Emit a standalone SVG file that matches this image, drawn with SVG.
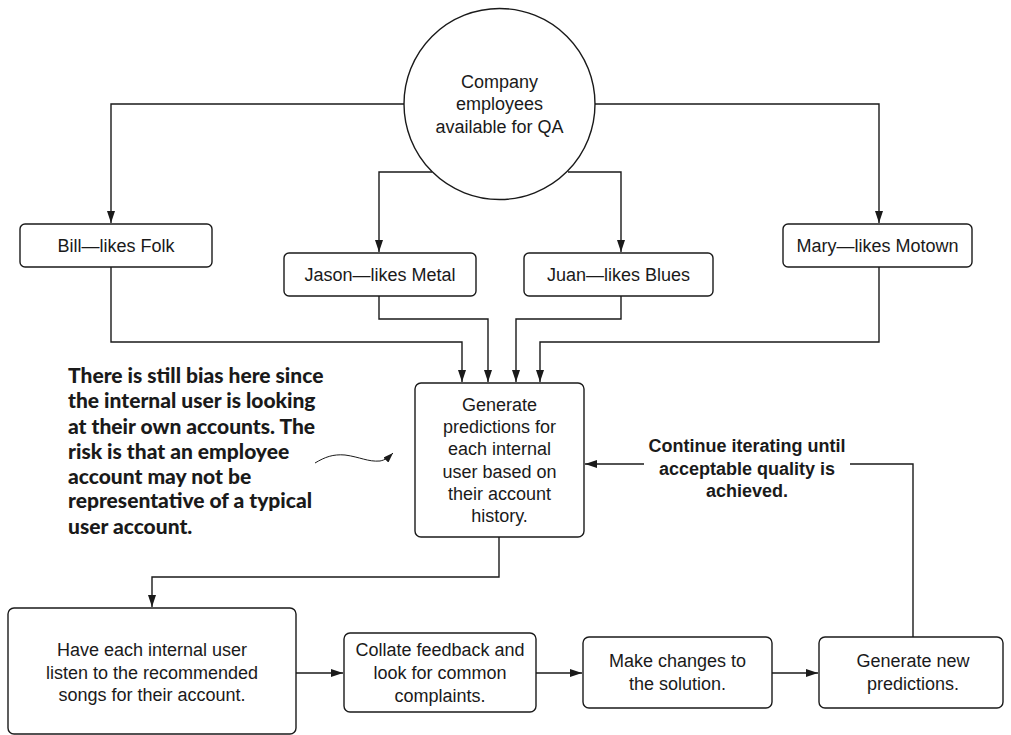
<svg xmlns="http://www.w3.org/2000/svg" width="1011" height="735" viewBox="0 0 1011 735">
  <style>
    .box { fill: #fff; stroke: #1a1a1a; stroke-width: 1.4; }
    .line { fill: none; stroke: #1a1a1a; stroke-width: 1.4; }
    .t { font-family: "Liberation Sans", Arial, sans-serif; font-size: 18px; fill: #1a1a1a; text-anchor: middle; }
    .tb { font-family: "Liberation Sans", Arial, sans-serif; font-size: 18px; font-weight: bold; fill: #1a1a1a; text-anchor: middle; }
    .note { font-family: Lato, "Open Sans", sans-serif; font-size: 21px; font-weight: 900; fill: #1a1a1a; }
  </style>
  <defs>
    <marker id="arrow" viewBox="0 0 12 8" refX="12" refY="4" markerWidth="12" markerHeight="8" markerUnits="userSpaceOnUse" orient="auto">
      <path d="M0,0 L12,4 L0,8 Z" fill="#1a1a1a"/>
    </marker>
    <marker id="arrowSmall" viewBox="0 0 10 7" refX="10" refY="3.5" markerWidth="10" markerHeight="7" markerUnits="userSpaceOnUse" orient="auto">
      <path d="M0,0 L10,3.5 L0,7 Z" fill="#1a1a1a"/>
    </marker>
  </defs>

  <rect width="1011" height="735" fill="#fff"/>

  <!-- connectors -->
  <g id="connectors">
    <path class="line" d="M404,104 H111 V223" marker-end="url(#arrow)"/>
    <path class="line" d="M432,172 H379 V252" marker-end="url(#arrow)"/>
    <path class="line" d="M568,172 H621 V252" marker-end="url(#arrow)"/>
    <path class="line" d="M595,104 H879 V223" marker-end="url(#arrow)"/>
    <path class="line" d="M111,267 V342 H462 V382" marker-end="url(#arrow)"/>
    <path class="line" d="M379,296 V319 H488 V382" marker-end="url(#arrow)"/>
    <path class="line" d="M621,296 V319 H516 V382" marker-end="url(#arrow)"/>
    <path class="line" d="M879,267 V342 H540 V382" marker-end="url(#arrow)"/>
    <path class="line" d="M499,537 V577 H152 V607" marker-end="url(#arrow)"/>
    <path class="line" d="M296,673 H343" marker-end="url(#arrow)"/>
    <path class="line" d="M536,673 H582" marker-end="url(#arrow)"/>
    <path class="line" d="M772,673 H818" marker-end="url(#arrow)"/>
    <path class="line" d="M913,637 V464 H850"/>
    <path class="line" d="M644,464 H585" marker-end="url(#arrow)"/>
    <path fill="none" stroke="#1a1a1a" stroke-width="1" d="M315,463 C325,457 333,454 345,455 C360,457 368,462 380,461 C385,460 388,458 393,453" marker-end="url(#arrowSmall)"/>
  </g>

  <!-- source pool -->
  <g id="employees">
    <circle class="box" cx="499.5" cy="104" r="95.5"/>
    <text class="t" x="499.5" y="88">Company</text>
    <text class="t" x="499.5" y="110">employees</text>
    <text class="t" x="499.5" y="133">available for QA</text>
  </g>

  <g id="bill">
    <rect class="box" x="20" y="224" width="192" height="43" rx="5"/>
    <text class="t" x="116" y="252">Bill—likes Folk</text>
  </g>
  <g id="jason">
    <rect class="box" x="284" y="253" width="192" height="43" rx="5"/>
    <text class="t" x="380" y="281">Jason—likes Metal</text>
  </g>
  <g id="juan">
    <rect class="box" x="524" y="253" width="189" height="43" rx="5"/>
    <text class="t" x="618.5" y="281">Juan—likes Blues</text>
  </g>
  <g id="mary">
    <rect class="box" x="783" y="224" width="189" height="43" rx="5"/>
    <text class="t" x="877.5" y="252">Mary—likes Motown</text>
  </g>

  <g id="generate">
    <rect class="box" x="415" y="383" width="169" height="154" rx="6"/>
    <text class="t" x="499.5" y="411">Generate</text>
    <text class="t" x="499.5" y="433">predictions for</text>
    <text class="t" x="499.5" y="455">each internal</text>
    <text class="t" x="499.5" y="478">user based on</text>
    <text class="t" x="499.5" y="500">their account</text>
    <text class="t" x="499.5" y="522">history.</text>
  </g>

  <g id="bias-note">
    <text class="note" x="68" y="383">There is still bias here since</text>
    <text class="note" x="68" y="408">the internal user is looking</text>
    <text class="note" x="68" y="434">at their own accounts. The</text>
    <text class="note" x="68" y="459">risk is that an employee</text>
    <text class="note" x="68" y="484">account may not be</text>
    <text class="note" x="68" y="508">representative of a typical</text>
    <text class="note" x="68" y="534">user account.</text>
  </g>

  <g id="loop-label">
    <text class="tb" x="747" y="452">Continue iterating until</text>
    <text class="tb" x="747" y="475">acceptable quality is</text>
    <text class="tb" x="747" y="497">achieved.</text>
  </g>

  <g id="listen">
    <rect class="box" x="8" y="608" width="288" height="126" rx="6"/>
    <text class="t" x="152" y="656">Have each internal user</text>
    <text class="t" x="152" y="679">listen to the recommended</text>
    <text class="t" x="152" y="701">songs for their account.</text>
  </g>
  <g id="collate">
    <rect class="box" x="344" y="633" width="192" height="79" rx="6"/>
    <text class="t" x="440" y="656">Collate feedback and</text>
    <text class="t" x="440" y="679">look for common</text>
    <text class="t" x="440" y="702">complaints.</text>
  </g>
  <g id="changes">
    <rect class="box" x="583" y="637" width="189" height="71" rx="6"/>
    <text class="t" x="677.5" y="667">Make changes to</text>
    <text class="t" x="677.5" y="690">the solution.</text>
  </g>
  <g id="new-predictions">
    <rect class="box" x="819" y="637" width="184" height="71" rx="6"/>
    <text class="t" x="913" y="667">Generate new</text>
    <text class="t" x="913" y="690">predictions.</text>
  </g>
</svg>
